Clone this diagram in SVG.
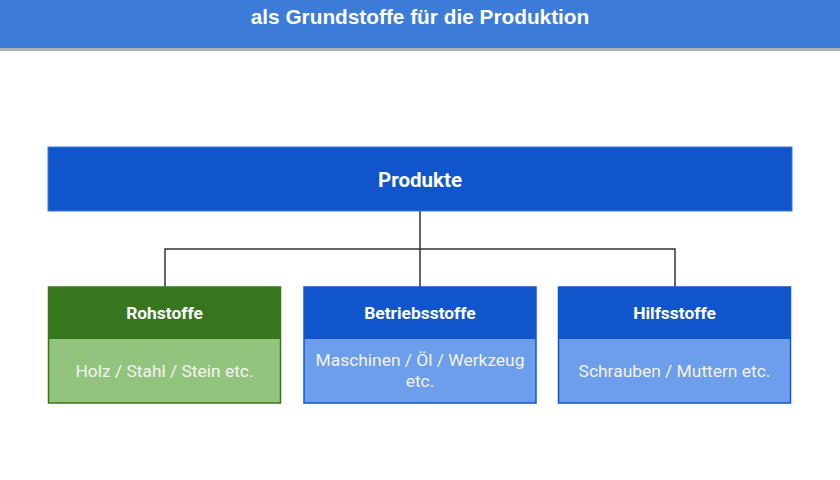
<svg xmlns="http://www.w3.org/2000/svg" width="840" height="480" viewBox="0 0 840 480">
<style>
.title{font-family:"Liberation Sans",Arial,sans-serif;font-weight:bold;font-size:20.8px;fill:#ffffff;text-anchor:middle}
.hd{font-family:Roboto,"Noto Sans",sans-serif;font-weight:bold;fill:#ffffff;text-anchor:middle}
.bd{font-family:Roboto,"Noto Sans",sans-serif;font-size:17.4px;fill:#f3f3f3;text-anchor:middle}
.conn{fill:none;stroke:#333333;stroke-width:1.5}
</style>
<rect x="0" y="0" width="840" height="480" fill="#ffffff"/>
<g id="header">
<rect x="0" y="47" width="840" height="4" fill="#b0b0b0"/>
<rect x="0" y="0" width="840" height="48" fill="#3c7bd8"/>
<text class="title" x="420" y="24">als Grundstoffe für die Produktion</text>
</g>
<g id="connectors">
<path class="conn" d="M420 211 V249 M165 287 V249 H675 V287 M420 249 V287"/>
</g>
<g id="produkte">
<rect x="48" y="147" width="744" height="64" fill="#1155cc" stroke="#3c78d8" stroke-width="1"/>
<text class="hd" x="420" y="187" font-size="20.5">Produkte</text>
</g>
<g id="rohstoffe">
<rect x="48.5" y="287" width="232" height="116" fill="#93c47d" stroke="#38761d" stroke-width="1.5"/>
<rect x="48.5" y="287" width="232" height="52" fill="#38761d"/>
<text class="hd" x="164.5" y="319" font-size="17.4">Rohstoffe</text>
<text class="bd" x="164.5" y="377">Holz / Stahl / Stein etc.</text>
</g>
<g id="betriebsstoffe">
<rect x="304" y="287" width="232" height="116" fill="#6d9eeb" stroke="#1155cc" stroke-width="1.5"/>
<rect x="304" y="287" width="232" height="52" fill="#1155cc"/>
<text class="hd" x="420" y="319" font-size="17.4">Betriebsstoffe</text>
<text class="bd" x="420" y="366">Maschinen / Öl / Werkzeug</text>
<text class="bd" x="420" y="387">etc.</text>
</g>
<g id="hilfsstoffe">
<rect x="558.5" y="287" width="232" height="116" fill="#6d9eeb" stroke="#1155cc" stroke-width="1.5"/>
<rect x="558.5" y="287" width="232" height="52" fill="#1155cc"/>
<text class="hd" x="674.5" y="319" font-size="17.4">Hilfsstoffe</text>
<text class="bd" x="674.5" y="377">Schrauben / Muttern etc.</text>
</g>
</svg>
